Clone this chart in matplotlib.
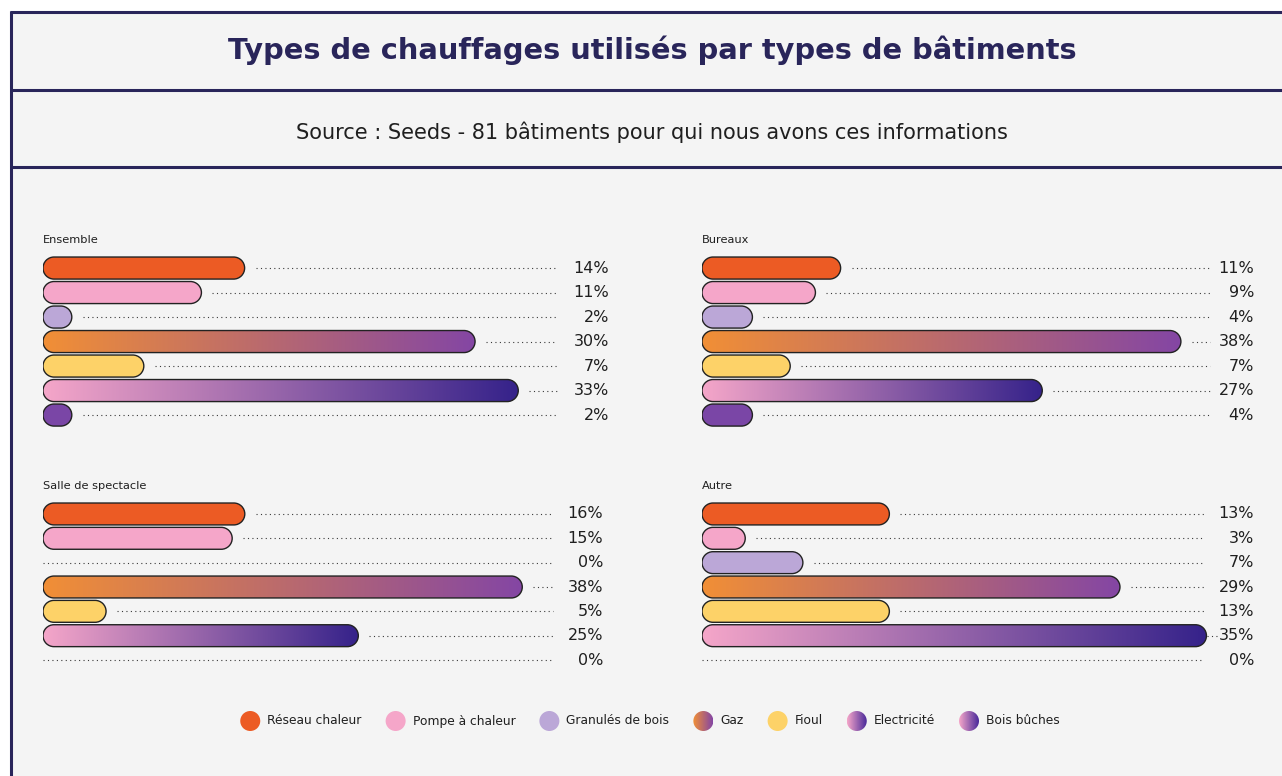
import matplotlib.pyplot as plt
import numpy as np
from matplotlib.patches import PathPatch, Circle, Rectangle
from matplotlib.path import Path
from matplotlib.colors import LinearSegmentedColormap

plt.rcParams['font.family'] = ['DejaVu Sans']

energies = ['Réseau chaleur', 'Pompe à chaleur', 'Granulés de bois', 'Gaz',
            'Fioul', 'Electricité', 'Bois bûches']
ensemble = [14, 11, 2, 30, 7, 33, 2]
bureaux = [11, 9, 4, 38, 7, 27, 4]
salle = [16, 15, 0, 38, 5, 25, 0]
autre = [13, 3, 7, 29, 13, 35, 0]
panel_names = ['Ensemble', 'Bureaux', 'Salle de spectacle', 'Autre']

# bar fills: one colour = solid, two colours = left-to-right gradient
bar_colors = [['#ec5b24'], ['#f5a6c9'], ['#bba7d7'], ['#f18f36', '#8446a4'],
              ['#fdd268'], ['#f5a6c9', '#35228a'], ['#7a46a6']]
legend_colors = [['#ec5b24'], ['#f5a6c9'], ['#bba7d7'], ['#f18f36', '#8446a4'],
                 ['#fdd268'], ['#f5a6c9', '#4a2a9a'], ['#f5a6c9', '#4a2a9a']]

NAVY = '#29255a'
BG = '#f4f4f4'
W, H = 1282, 776

fig = plt.figure(figsize=(W / 100, H / 100), dpi=100, facecolor='white')

# frame / header in pixel coordinates
bg = fig.add_axes([0, 0, 1, 1])
bg.set_xlim(0, W)
bg.set_ylim(H, 0)
bg.axis('off')
bg.set_autoscale_on(False)
bg.add_patch(Rectangle((10, 12), W, H, facecolor=BG, edgecolor='none', zorder=0))
for yy in (12, 90, 167):
    bg.plot([10, W], [yy, yy], color=NAVY, lw=2.2, solid_capstyle='butt')
bg.plot([10.5, 10.5], [11, H], color=NAVY, lw=2.2, solid_capstyle='butt')
bg.text(652, 50, 'Types de chauffages utilisés par types de bâtiments',
        ha='center', va='center', fontsize=20.8, fontweight='bold', color=NAVY)
bg.text(652, 132, 'Source : Seeds - 81 bâtiments pour qui nous avons ces informations',
        ha='center', va='center', fontsize=15, color='#1f1f1f')


def px(x0, y0, x1, y1):
    return [x0 / W, 1 - y1 / H, (x1 - x0) / W, (y1 - y0) / H]


def stadium(x0, x1, yc, h, sx, sy):
    # pill shape in data coords, with round ends that are circular on screen
    ry = h / 2
    rx = min(ry * sy / sx, (x1 - x0) / 2)
    arc = Path.arc(-90, 90)
    av = arc.vertices[1:]
    right = np.column_stack([x1 - rx + rx * av[:, 0], yc + ry * av[:, 1]])
    left = np.column_stack([x0 + rx - rx * av[:, 0], yc - ry * av[:, 1]])
    verts = [(x0 + rx, yc - ry), (x1 - rx, yc - ry)]
    codes = [Path.MOVETO, Path.LINETO]
    verts += list(right)
    codes += list(arc.codes[1:])
    verts += [(x0 + rx, yc + ry)]
    codes += [Path.LINETO]
    verts += list(left)
    codes += list(arc.codes[1:])
    verts += [(x0 + rx, yc - ry)]
    codes += [Path.CLOSEPOLY]
    return Path(verts, codes)


panels = [
    (ensemble, px(43, 255.8, 609, 427.3), 39.3, 0.908),
    (bureaux, px(702, 255.8, 1254, 427.3), 43.8, 0.920),
    (salle, px(43, 501.8, 603, 672.2), 44.4, 0.911),
    (autre, px(702, 501.8, 1254, 672.2), 38.3, 0.909),
]

bar_h = 0.9
for (values, rect, xmax, dot_end), name in zip(panels, panel_names):
    ax = fig.add_axes(rect)
    ax.set_xlim(0, xmax)
    ax.set_ylim(len(values) - 0.5, -0.5)
    ax.set_autoscale_on(False)
    ax.axis('off')
    ax.annotate(name, (0, 1), xycoords='axes fraction', xytext=(0, 11.4),
                textcoords='offset points', ha='left', va='center',
                fontsize=8.2, color='#1f1f1f')

    p0 = ax.transData.transform((0, 0))
    p1 = ax.transData.transform((1, 1))
    sx = abs(p1[0] - p0[0])
    sy = abs(p1[1] - p0[1])

    for i, v in enumerate(values):
        end = 0
        if v > 0:
            patch = PathPatch(stadium(0, v, i, bar_h, sx, sy), linewidth=1.0,
                              edgecolor='#222222', zorder=3)
            cols = bar_colors[i]
            if len(cols) == 1:
                patch.set_facecolor(cols[0])
                ax.add_patch(patch)
            else:
                patch.set_facecolor('none')
                ax.add_patch(patch)
                cmap = LinearSegmentedColormap.from_list('g%d' % i, cols)
                im = ax.imshow(np.linspace(0, 1, 256).reshape(1, -1), cmap=cmap,
                               extent=(0, v, i + bar_h / 2, i - bar_h / 2),
                               aspect='auto', zorder=2, interpolation='bilinear')
                im.set_clip_path(patch)
            end = v + 11 / sx
        ax.plot([end, xmax * dot_end], [i, i], color='#3a3a3a', lw=0.8,
                linestyle=(0, (1, 3)), zorder=1)
        ax.text(1, i, f'{v}%', transform=ax.get_yaxis_transform(), ha='right',
                va='center', fontsize=11.5, color='#1f1f1f')

# legend, laid out left to right in pixel coordinates
renderer = fig.canvas.get_renderer()
rad = 10
widths = []
for lab in energies:
    t = bg.text(0, 0, lab, fontsize=8.8)
    widths.append(t.get_window_extent(renderer).width)
    t.remove()
gap_txt, gap_item = 7, 24
total = sum(2 * rad + gap_txt + w for w in widths) + gap_item * (len(energies) - 1)
x = 650 - total / 2
ly = 721
for lab, cols, w in zip(energies, legend_colors, widths):
    c = Circle((x + rad, ly), rad, facecolor=cols[0], edgecolor='none', zorder=3)
    bg.add_patch(c)
    if len(cols) > 1:
        c.set_facecolor('none')
        cmap = LinearSegmentedColormap.from_list('leg', cols)
        im = bg.imshow(np.linspace(0, 1, 64).reshape(1, -1), cmap=cmap,
                       extent=(x, x + 2 * rad, ly + rad, ly - rad),
                       aspect='auto', zorder=2)
        im.set_clip_path(c)
    bg.text(x + 2 * rad + gap_txt, ly, lab, ha='left', va='center',
            fontsize=8.8, color='#1f1f1f')
    x += 2 * rad + gap_txt + w + gap_item

fig.savefig('out.png', dpi=100, facecolor='white')
